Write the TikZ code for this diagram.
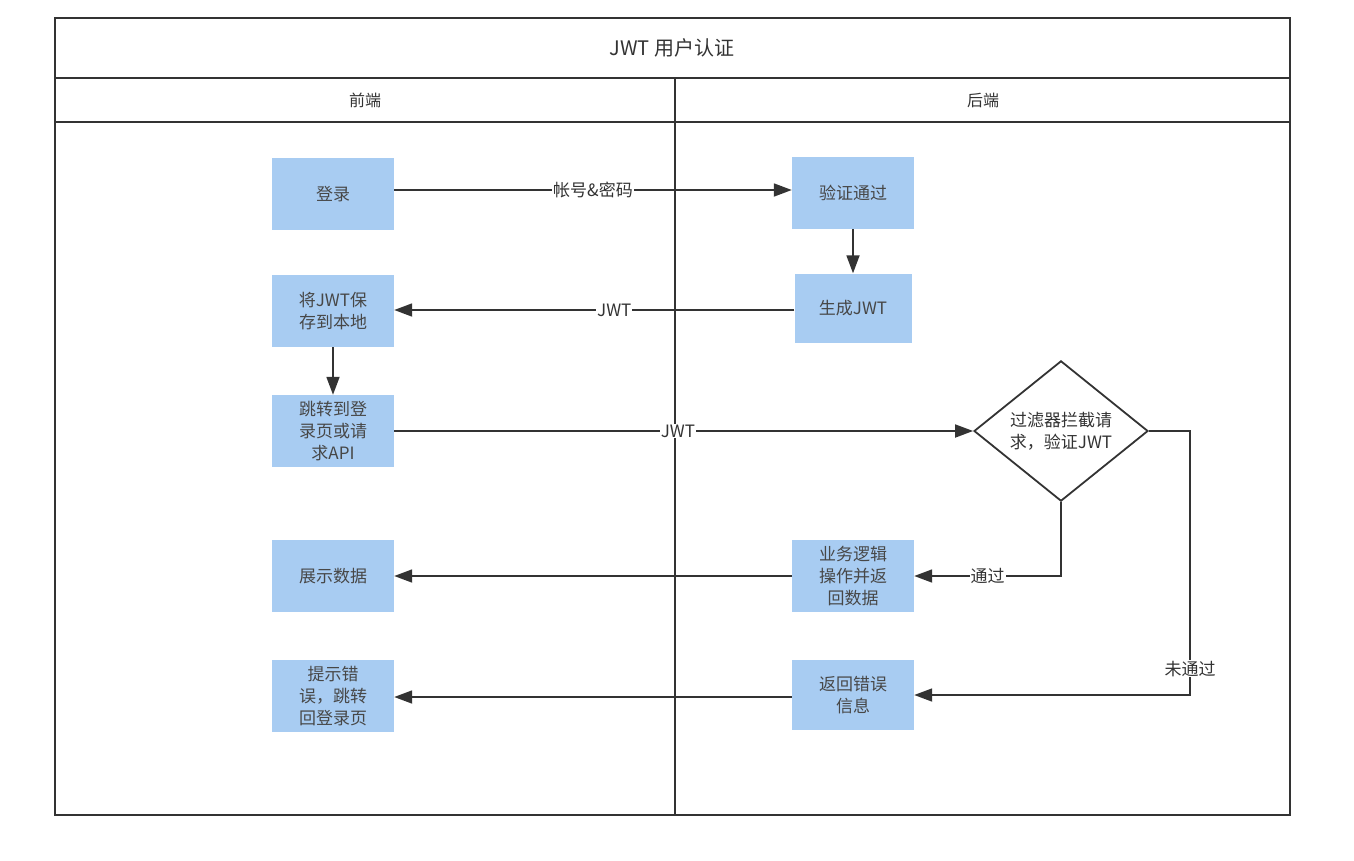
\documentclass[tikz,border=0pt]{standalone}
\usepackage{fontspec}
\setmainfont{Noto Sans CJK SC}
\usetikzlibrary{shapes.geometric,arrows.meta}
\definecolor{bx}{HTML}{A8CCF2}
\definecolor{ln}{HTML}{333333}
\begin{document}
\begin{tikzpicture}[x=1pt,y=-1pt,
  box/.style={fill=bx,minimum width=122pt,minimum height=72pt,align=center,text width=110pt,font=\fontsize{17}{22}\selectfont,text=ln!90},
  arr/.style={draw=ln,line width=1.8pt,-{Triangle[length=18pt,width=13pt]}},
  lbl/.style={fill=white,inner sep=1pt,font=\fontsize{17}{20}\selectfont,text=ln}]
\useasboundingbox (0,0) rectangle (1354,860);
\draw[line width=1.8pt,draw=ln] (55,18) rectangle (1290,815);
\draw[line width=1.8pt,draw=ln] (55,78) -- (1290,78) (55,122) -- (1290,122) (675,78) -- (675,815);
\node[font=\fontsize{20}{24}\selectfont,text=ln] (title) at (672,48) {JWT 用户认证};
\node[font=\fontsize{16}{20}\selectfont,text=ln] (h1) at (365,100) {前端};
\node[font=\fontsize{16}{20}\selectfont,text=ln] (h2) at (983,100) {后端};
\node[box] (login) at (333,194) {登录};
\node[box] (verify) at (853,193) {验证通过};
\node[box,minimum width=117pt,minimum height=69pt] (gen) at (853,308) {生成JWT};
\node[box] (save) at (333,311) {将JWT保\\存到本地};
\node[box] (jump) at (333,431) {跳转到登\\录页或请\\求API};
\node[draw=ln,line width=1.8pt,fill=white,diamond,minimum width=174pt,minimum height=132pt,inner sep=0pt,align=center,font=\fontsize{17}{22}\selectfont,text=ln] (filter) at (1061,431) {过滤器拦截请\\求，验证JWT};
\node[box] (biz) at (853,576) {业务逻辑\\操作并返\\回数据};
\node[box] (show) at (333,576) {展示数据};
\node[box,minimum height=70pt] (err) at (853,695) {返回错误\\信息};
\node[box] (tip) at (333,696) {提示错\\误，跳转\\回登录页};
\draw[arr] (login.east|-0,190) -- node[lbl,pos=0.5]{帐号\&密码} (verify.west|-0,190);
\draw[arr] (verify) -- (gen);
\draw[arr] (gen.west|-0,310) -- node[lbl,pos=0.45]{JWT} (save.east|-0,310);
\draw[arr] (save) -- (jump);
\draw[arr] (jump.east) -- node[lbl,pos=0.49]{JWT} (filter.west);
\draw[arr] (filter.south) |- node[lbl,pos=0.75]{通过} (biz.east);
\coordinate (c1) at (1190,431);
\draw[arr] (filter.east) -- (c1) |- node[lbl,pos=0.45]{未通过} (err.east);
\draw[arr] (biz) -- (show);
\draw[arr] (err.west|-0,697) -- (tip.east|-0,697);
\end{tikzpicture}
\end{document}
